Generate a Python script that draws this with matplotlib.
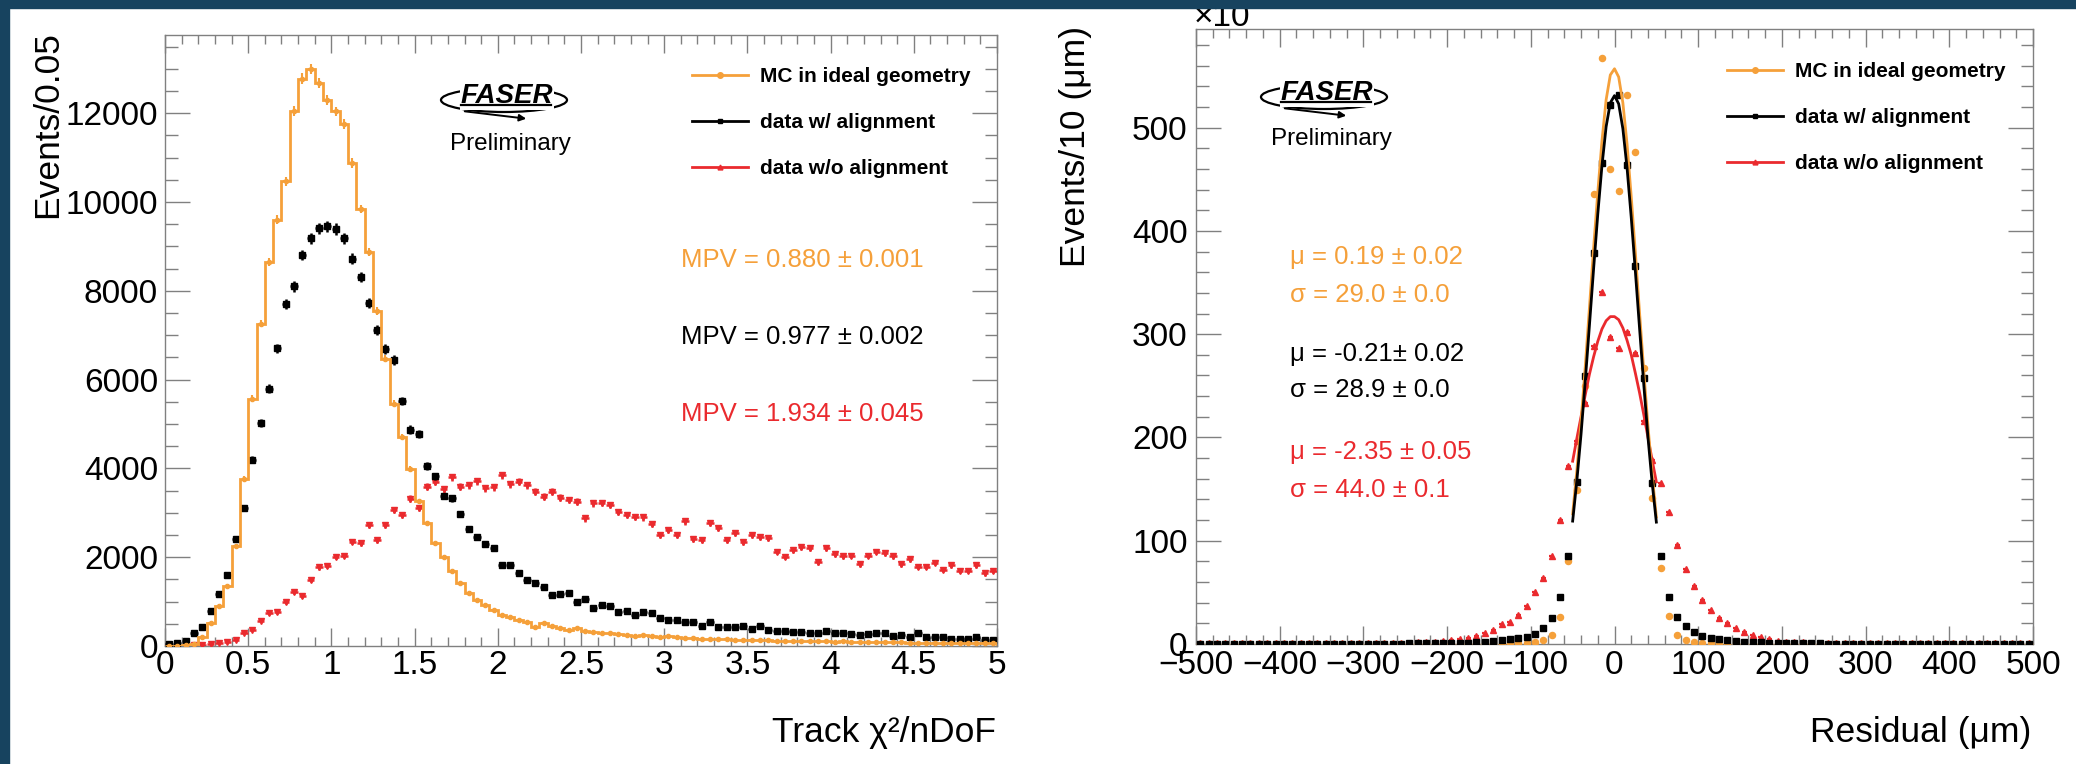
import numpy as np
import matplotlib
matplotlib.use("Agg")
import matplotlib.pyplot as plt
from matplotlib.lines import Line2D
from matplotlib.patches import Rectangle, Ellipse, FancyArrowPatch
from matplotlib.ticker import MultipleLocator

plt.rcParams['font.family'] = ['Liberation Sans', 'DejaVu Sans']

# ---------------- data: left panel (Track chi2/nDoF, bins of 0.05) ----------------
chi2_bin_width = 0.05
mc_chi2 = [0, 5, 15, 40, 210, 510, 910, 1360, 2250, 3770,
           5570, 7260, 8650, 9600, 10470, 12050, 12780, 12990, 12690, 12300,
           12040, 11750, 10880, 9840, 8870, 7540, 6470, 5460, 4710, 3980,
           3260, 2760, 2310, 2010, 1690, 1410, 1200, 1035, 923, 810,
           698, 660, 585, 548, 435, 510, 458, 413, 360, 398,
           345, 323, 285, 300, 270, 248, 232, 248, 225, 210,
           225, 195, 188, 172, 165, 160, 150, 148, 140, 142,
           135, 130, 132, 120, 118, 112, 115, 108, 110, 104,
           100, 102, 96, 92, 95, 88, 85, 82, 84, 78,
           75, 78, 72, 70, 68, 70, 65, 63, 62, 60]
aligned_chi2 = [45, 60, 120, 293, 436, 782, 1173, 1601, 2406, 3113,
                4196, 5031, 5798, 6700, 7710, 8098, 8807, 9180, 9411, 9449,
                9389, 9180, 8718, 8307, 7725, 7114, 6690, 6440, 5520, 4875,
                4780, 4050, 3825, 3375, 3323, 2970, 2625, 2460, 2295, 2198,
                1823, 1823, 1635, 1485, 1410, 1320, 1148, 1163, 1200, 998,
                1050, 863, 923, 908, 773, 788, 698, 773, 750, 623,
                585, 585, 548, 533, 450, 548, 420, 420, 420, 458,
                390, 450, 360, 345, 330, 315, 315, 300, 300, 330,
                300, 285, 270, 248, 270, 285, 285, 233, 255, 210,
                285, 195, 210, 210, 165, 165, 165, 195, 135, 135]
unaligned_chi2 = [0, 0, 5, 15, 25, 45, 60, 98, 135, 286,
                  361, 571, 737, 759, 985, 1225, 1135, 1489, 1774, 1812,
                  2015, 2038, 2353, 2316, 2714, 2391, 2714, 3068, 2955, 3320,
                  3110, 3585, 3698, 3525, 3795, 3585, 3623, 3713, 3548, 3570,
                  3848, 3638, 3698, 3623, 3473, 3360, 3473, 3338, 3285, 3248,
                  2873, 3210, 3225, 3173, 3023, 2948, 2910, 2895, 2745, 2498,
                  2610, 2498, 2805, 2404, 2385, 2760, 2648, 2385, 2550, 2348,
                  2498, 2460, 2438, 2123, 2010, 2160, 2220, 2198, 1883, 2198,
                  2063, 2025, 2033, 1838, 2033, 2123, 2085, 2025, 1838, 1950,
                  1785, 1785, 1875, 1710, 1823, 1695, 1695, 1823, 1635, 1688]
mpv_texts = ["MPV = 0.880 \u00b1 0.001", "MPV = 0.977 \u00b1 0.002", "MPV = 1.934 \u00b1 0.045"]

# ---------------- data: right panel (Residual, bins of 10 um, x10^3 events) ----------------
res_bin_width = 10
res_min = -500
mc_res = [0.2] * 35 + [0.3, 0.4, 0.6, 0.9, 1.4, 2.2, 3.6, 8.7, 26.5, 80.6,
                       149.5, 250, 436, 567.6, 459.5, 439, 531.4, 476.4, 267.6, 141.4,
                       73.5, 27.2, 8.7, 4.2, 2.2, 1.3, 0.8, 0.5, 0.4, 0.3] + [0.2] * 35
aligned_res = [0.3] * 20 + [0.4] * 5 + [0.5, 0.6, 0.7, 0.8, 0.9, 1.0, 1.2, 1.4, 1.8, 2.3,
                                        2.8, 3.4, 4.4, 5.5, 6.3, 9.5, 15.2, 24.9, 45.3, 85.5,
                                        157, 259.5, 378.6, 466, 522.3, 531.4, 464, 366.3, 257.3, 156,
                                        85, 45.9, 26.5, 17, 12, 8, 6, 4.8, 3.8, 3.1,
                                        2.3, 1.8, 1.5, 1.2, 1.0, 0.9, 0.8, 0.7, 0.6, 0.5] + [0.4] * 5 + [0.3] * 20
unaligned_res = [0.6] * 20 + [0.7, 0.8, 0.9, 1.0, 1.1, 1.3, 1.6, 2.0, 2.3, 3.0,
                              3.9, 4.9, 6.1, 8.1, 10.4, 13.6, 19.0, 21.5, 28.2, 37.2,
                              50.8, 63.8, 85.4, 119.7, 172, 196.4, 233, 288.7, 341, 296.8,
                              287, 302.3, 282.2, 216, 178.6, 156, 127.5, 95.5, 72.5, 56.3,
                              42.7, 33, 25, 20, 15.2, 11.3, 8.7, 6.5, 4.5, 3.2,
                              2.4, 1.9, 1.5, 1.2, 1.0, 0.9, 0.8, 0.7] + [0.6] * 22

# Gaussian fit curves (x in um)
fit_x = [-50, -45, -40, -35, -30, -25, -20, -15, -10, -5, 0, 5, 10, 15, 20, 25, 30, 35, 40, 45, 50]
fit_mc = [126, 168, 215, 268, 325, 383, 437, 487, 527, 551, 557, 549, 524, 484, 433, 378, 320, 264, 211, 164, 123]
fit_aligned = [119, 158, 203, 254, 308, 363, 416, 463, 501, 524, 531, 523, 499, 461, 413, 360, 305, 251, 200, 156, 118]
fit_unaligned = [177, 199, 220, 241, 261, 278, 293, 305, 313, 317, 317, 314, 306, 294, 280, 262, 243, 222, 200, 178, 157]
fit_texts = [("\u03bc = 0.19 \u00b1 0.02", "mc"), ("\u03c3 = 29.0 \u00b1 0.0", "mc"),
             ("\u03bc = -0.21\u00b1 0.02", "al"), ("\u03c3 = 28.9 \u00b1 0.0", "al"),
             ("\u03bc = -2.35 \u00b1 0.05", "un"), ("\u03c3 = 44.0 \u00b1 0.1", "un")]

legend_labels = ["MC in ideal geometry", "data w/ alignment", "data w/o alignment"]

# ---------------- styling ----------------
W, H = 2076, 764
ORANGE = '#f5a03a'
RED = '#ea2a2e'
BLACK = '#000000'
GREY = '#808080'
NAVY = '#17435f'
colors = {"mc": ORANGE, "al": BLACK, "un": RED}
TICK_FS = 24

fig = plt.figure(figsize=(W / 100, H / 100), dpi=100)
fig.patch.set_facecolor('white')


def fx(x):
    return x / W


def fy(y):
    return 1 - y / H


axL = fig.add_axes([fx(165), fy(646), (997 - 165) / W, (646 - 35) / H])
axR = fig.add_axes([fx(1196), fy(644), (2033 - 1196) / W, (644 - 29) / H])

for ax in (axL, axR):
    for sp in ax.spines.values():
        sp.set_color(GREY)
        sp.set_linewidth(1.0)
    ax.tick_params(which='both', direction='in', top=True, right=True, color=GREY, width=1.0,
                   labelsize=TICK_FS)
    ax.tick_params(axis='x', which='major', length=13)
    ax.tick_params(axis='x', which='minor', length=6.5)
    ax.tick_params(axis='y', which='major', length=18)
    ax.tick_params(axis='y', which='minor', length=9)

# ---------------- left panel ----------------
n = len(mc_chi2)
edges = np.arange(n + 1) * chi2_bin_width
centers = (np.arange(n) + 0.5) * chi2_bin_width
mc = np.array(mc_chi2, float)
al = np.array(aligned_chi2, float)
un = np.array(unaligned_chi2, float)

axL.errorbar(centers, un, yerr=np.sqrt(un) * 1.3, xerr=0.022, fmt='v', ms=3.8, color=RED,
             ecolor=RED, elinewidth=1.8, capsize=0, zorder=3)
axL.errorbar(centers, al, yerr=np.sqrt(al) * 1.3, xerr=0.022, fmt='s', ms=3.8, color=BLACK,
             ecolor=BLACK, elinewidth=1.8, capsize=0, zorder=4)
axL.stairs(mc, edges, color=ORANGE, lw=2.0, zorder=5)
axL.errorbar(centers, mc, yerr=np.sqrt(mc), xerr=0.014, fmt='o', ms=3.0, color=ORANGE,
             ecolor=ORANGE, elinewidth=1.5, capsize=0, zorder=6)

axL.set_xlim(0, 5)
axL.set_ylim(0, 13760)
axL.xaxis.set_major_locator(MultipleLocator(0.5))
axL.xaxis.set_minor_locator(MultipleLocator(0.1))
axL.yaxis.set_major_locator(MultipleLocator(2000))
axL.yaxis.set_minor_locator(MultipleLocator(500))
axL.xaxis.set_major_formatter(plt.FuncFormatter(lambda v, p: ('%g' % v)))
axL.tick_params(axis='x', pad=3.0)
axL.tick_params(axis='y', pad=5)

# ---------------- right panel ----------------
m = len(mc_res)
rc = res_min + (np.arange(m) + 0.5) * res_bin_width
axR.errorbar(rc, unaligned_res, xerr=3.0, fmt='^', ms=4.6, color=RED, ecolor=RED,
             elinewidth=1.6, capsize=0, zorder=3)
axR.errorbar(rc, mc_res, xerr=3.0, fmt='o', ms=4.4, color=ORANGE, ecolor=ORANGE,
             elinewidth=1.6, capsize=0, zorder=4)
axR.errorbar(rc, aligned_res, xerr=3.0, fmt='s', ms=5.0, color=BLACK, ecolor=BLACK,
             elinewidth=1.6, capsize=0, zorder=5)
axR.plot(fit_x, fit_unaligned, color=RED, lw=2.0, zorder=6)
axR.plot(fit_x, fit_mc, color=ORANGE, lw=2.0, zorder=6)
axR.plot(fit_x, fit_aligned, color=BLACK, lw=2.0, zorder=7)

axR.set_xlim(-500, 500)
axR.set_ylim(0, 595.5)
axR.xaxis.set_major_locator(MultipleLocator(100))
axR.xaxis.set_minor_locator(MultipleLocator(20))
axR.yaxis.set_major_locator(MultipleLocator(100))
axR.yaxis.set_minor_locator(MultipleLocator(20))
axR.tick_params(axis='x', pad=4.5)
axR.tick_params(axis='y', pad=6)

# ---------------- axis titles ----------------
fig.text(fx(48), fy(31), "Events/0.05", rotation=90, ha='center', va='top', fontsize=25.5)
fig.text(fx(1076), fy(26), "Events/10 (\u03bcm)", rotation=90, ha='center', va='top', fontsize=25.5)
fig.text(fx(996), fy(742), "Track \u03c7\u00b2/nDoF", ha='right', va='baseline', fontsize=25.5)
fig.text(fx(2031), fy(742), "Residual (\u03bcm)", ha='right', va='baseline', fontsize=25.5)
fig.text(fx(1194), fy(26), "\u00d710", ha='left', va='baseline', fontsize=TICK_FS)
fig.text(fx(1264), fy(7), "3", ha='left', va='baseline', fontsize=15)

# ---------------- legends ----------------
def handles():
    return [Line2D([], [], color=ORANGE, marker='o', ms=4, lw=2),
            Line2D([], [], color=BLACK, marker='s', ms=3.5, lw=2),
            Line2D([], [], color=RED, marker='^', ms=3.5, lw=2)]


for ax, (lx, ly) in ((axL, (692, 67)), (axR, (1727, 62))):
    ax.legend(handles(), legend_labels, loc='upper left', bbox_to_anchor=(fx(lx), fy(ly)),
              bbox_transform=fig.transFigure, frameon=False,
              prop={'weight': 'bold', 'size': 15}, handlelength=2.7, handletextpad=0.58,
              labelspacing=1.3, borderpad=0, borderaxespad=0)

# ---------------- annotation texts ----------------
for txt, key, yb in zip(mpv_texts, ["mc", "al", "un"], [267, 344, 421]):
    fig.text(fx(681), fy(yb), txt, ha='left', va='baseline', fontsize=18.5, color=colors[key])
for (txt, key), yb in zip(fit_texts, [264, 302, 361, 397, 459, 497]):
    fig.text(fx(1290), fy(yb), txt, ha='left', va='baseline', fontsize=18.5, color=colors[key])


# ---------------- FASER logos ----------------
def faser_logo(cx, base, prelim_cx, prelim_base):
    fig.patches.append(Ellipse((fx(cx - 3), fy(base - 3)), 126 / W, 24 / H, transform=fig.transFigure,
                               fill=False, ec='black', lw=1.6, zorder=4))
    fig.text(fx(cx), fy(base), "FASER", ha='center', va='baseline', fontsize=20,
             fontweight='bold', fontstyle='italic', color='black', zorder=5,
             bbox=dict(boxstyle='square,pad=0.02', fc='white', ec='none'))
    fig.lines.append(Line2D([fx(cx - 46), fx(cx + 44)], [fy(base + 2), fy(base + 2)],
                            transform=fig.transFigure, color='black', lw=1.6, zorder=6))
    fig.patches.append(FancyArrowPatch((fx(cx - 45), fy(base + 8)), (fx(cx + 22), fy(base + 16)),
                                       transform=fig.transFigure, arrowstyle='-|>',
                                       mutation_scale=10, lw=1.4, color='black', zorder=6))
    fig.text(fx(prelim_cx), fy(prelim_base), "Preliminary", ha='center', va='baseline', fontsize=17.5)


faser_logo(507, 103, 510, 150)
faser_logo(1327, 100, 1331, 145)

# ---------------- dark frame ----------------
fig.patches.append(Rectangle((0, 0), fx(9), 1, transform=fig.transFigure, color=NAVY, zorder=20))
fig.patches.append(Rectangle((0, fy(8)), 1, 8 / H, transform=fig.transFigure, color=NAVY, zorder=20))

fig.savefig("out.png", dpi=100)
